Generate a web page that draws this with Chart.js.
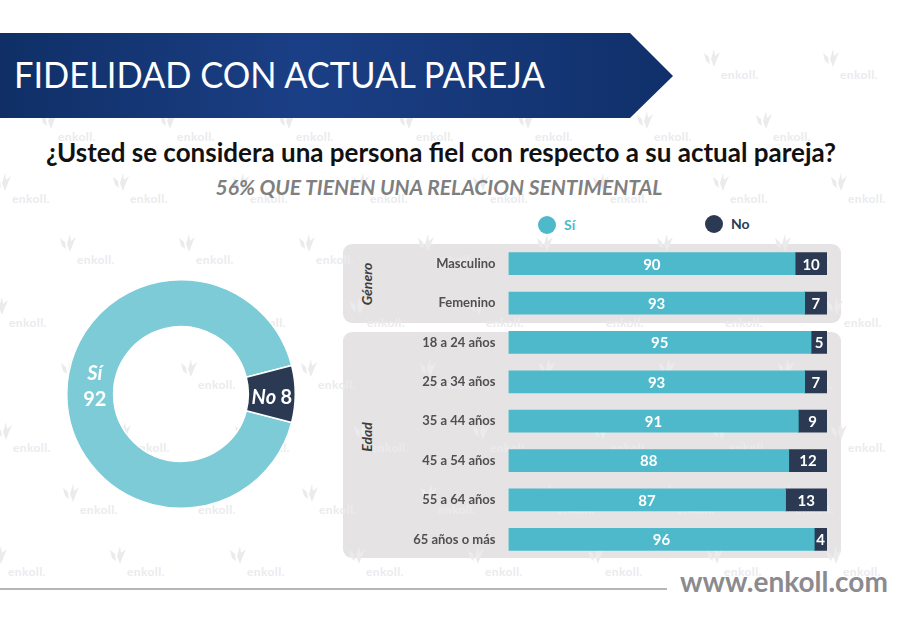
<!DOCTYPE html>
<html lang="es">
<head>
<meta charset="utf-8">
<title>Fidelidad con actual pareja</title>
<script src="https://cdn.jsdelivr.net/npm/chart.js@4"></script>
<style>
  body { margin: 0; background: #fff; font-family: Lato, "Open Sans", sans-serif; }
  #page { position: relative; width: 900px; height: 630px; overflow: hidden; }
  #page > * { position: absolute; }
  #banner { left: 0; top: 33px; width: 673px; height: 85px;
    background: linear-gradient(90deg, #0f2f66 0%, #1b3f86 45%, #10306a 100%);
    clip-path: polygon(0 0, 630px 0, 673px 43px, 630px 85px, 0 85px); }
  #titulo { left: 14px; top: 52px; color: #fff; font-size: 37px; line-height: 44px; white-space: nowrap; transform: scaleX(.93); transform-origin: left center; }
  #pregunta { left: 0; width: 882px; top: 136px; text-align: center; font-size: 26px; line-height: 32px; font-weight: 700; color: #111; white-space: nowrap; }
  #sub { left: 0; width: 878px; top: 175px; text-align: center; font-size: 21px; line-height: 24px; font-weight: 700; font-style: italic; color: #7f7f7f; white-space: nowrap; }
  .panel { background: #e6e3e4; border-radius: 9px; left: 343px; width: 498px; }
  .wm-txt { color: #ebebee; font-size: 12px; font-weight: 700; letter-spacing: .4px; white-space: nowrap; }
  .wm-ico { width: 20px; height: 20px; }
  .grupo { font-size: 14px; font-weight: 700; font-style: italic; color: #3d3d3d; transform: translate(-50%, -50%) rotate(-90deg); white-space: nowrap; }
  .ley-punto { width: 18px; height: 18px; border-radius: 50%; }
  .ley-txt { font-size: 14px; font-weight: 700; line-height: 18px; }
  #web { left: 680px; top: 565px; font-size: 28px; line-height: 32px; font-weight: 700; color: #8b8b8f; white-space: nowrap; }
  #linea { left: 0; top: 588px; width: 667px; height: 2px; background: #b5b5b5; }
</style>
</head>
<body>
<div id="page">
  <div class="panel" style="top:244px;height:79px"></div>
  <div class="panel" style="top:332px;height:226px"></div>
  <div id="marcas"></div>
  <div id="banner"></div>
  <div id="titulo">FIDELIDAD CON ACTUAL PAREJA</div>
  <div id="pregunta">¿Usted se considera una persona fiel con respecto a su actual pareja?</div>
  <div id="sub">56% QUE TIENEN UNA RELACION SENTIMENTAL</div>
  <div class="ley-punto" style="left:538px;top:216px;background:#4db9ca"></div>
  <div class="ley-txt" style="left:564px;top:216px;color:#4db9ca">Sí</div>
  <div class="ley-punto" style="left:705px;top:215px;background:#2b3a52"></div>
  <div class="ley-txt" style="left:731px;top:215px;color:#2b3a52">No</div>
  <div class="grupo" style="left:366px;top:284px">Género</div>
  <div class="grupo" style="left:366px;top:437px">Edad</div>
  <canvas id="chartDona" style="left:66px;top:279px"></canvas>
  <canvas id="chartBarras" style="left:340px;top:244px"></canvas>
  <div id="web">www.enkoll.com</div>
  <div id="linea"></div>
</div>
<script>
const categorias = ['Masculino', 'Femenino', '18 a 24 años', '25 a 34 años', '35 a 44 años', '45 a 54 años', '55 a 64 años', '65 años o más'];
const valoresSi = [90, 93, 95, 93, 91, 88, 87, 96];
const valoresNo = [10, 7, 5, 7, 9, 12, 13, 4];
const donaEtiquetas = ['Sí', 'No'];
const donaValores = [92, 8];

const colorSi = '#4db9ca';
const colorSiDona = '#7ccbd6';
const colorNo = '#2b3a52';
const fuente = 'Lato, "Open Sans", sans-serif';

// Marca de agua de fondo
const filasMarca = [
    { y: 75, xs: [741, 860] },
    { y: 137, xs: [78, 197, 316, 436, 555, 674, 793] },
    { y: 199, xs: [32, 150, 270, 390, 510, 630, 750, 868] },
    { y: 260, xs: [97, 216, 336, 455, 574, 694, 812] },
    { y: 323, xs: [29, 148, 268, 387, 506, 626, 745, 864] },
    { y: 385, xs: [98, 218, 338, 457, 576, 696, 815] },
    { y: 448, xs: [33, 152, 272, 391, 510, 630, 749, 868] },
    { y: 510, xs: [100, 218, 339, 458, 577, 697, 816] },
    { y: 572, xs: [28, 147, 267, 386, 505, 625, 744, 863] }
];
const marcas = document.getElementById('marcas');
filasMarca.forEach(fila => {
    fila.xs.forEach(x => {
        const txt = document.createElement('div');
        txt.className = 'wm-txt';
        txt.textContent = 'enkoll.';
        txt.style.cssText = `position:absolute;left:${x - 20}px;top:${fila.y - 8}px`;
        marcas.appendChild(txt);
        const ico = document.createElementNS('http://www.w3.org/2000/svg', 'svg');
        ico.setAttribute('viewBox', '0 0 20 20');
        ico.setAttribute('class', 'wm-ico');
        ico.style.cssText = `position:absolute;left:${x - 39}px;top:${fila.y - 27}px`;
        ico.innerHTML = '<path d="M2 5 L7 9 L8 16 L4 13 Z M12 1 L13 8 L18 4 L15 11 L12 19 L9 11 Z" fill="#ebebee"/>';
        marcas.appendChild(ico);
    });
});

// Valores dentro de cada tramo de barra
const valoresEnBarras = {
    id: 'valoresEnBarras',
    afterDatasetsDraw(chart) {
        const ctx = chart.ctx;
        ctx.save();
        ctx.fillStyle = '#fff';
        ctx.font = `700 15px ${fuente}`;
        ctx.textAlign = 'center';
        ctx.textBaseline = 'middle';
        chart.data.datasets.forEach((ds, i) => {
            chart.getDatasetMeta(i).data.forEach((barra, j) => {
                const p = barra.getProps(['x', 'y', 'base']);
                ctx.fillText(ds.data[j], (p.x + p.base) / 2, p.y + 1);
            });
        });
        ctx.restore();
    }
};

// Etiquetas sobre los sectores de la dona
const etiquetasDona = {
    id: 'etiquetasDona',
    afterDatasetsDraw(chart) {
        const ctx = chart.ctx;
        const arcos = chart.getDatasetMeta(0).data;
        const valores = chart.data.datasets[0].data;
        const etiquetas = chart.data.labels;
        ctx.save();
        ctx.fillStyle = '#fff';
        ctx.textBaseline = 'middle';

        const si = arcos[0].getProps(['x', 'y', 'startAngle', 'endAngle', 'innerRadius', 'outerRadius']);
        const angSi = (si.startAngle + si.endAngle) / 2;
        const rSi = si.innerRadius + (si.outerRadius - si.innerRadius) * 0.4;
        const xSi = si.x + Math.cos(angSi) * rSi;
        const ySi = si.y + Math.sin(angSi) * rSi;
        ctx.textAlign = 'center';
        ctx.font = `italic 700 20px ${fuente}`;
        ctx.fillText(etiquetas[0], xSi, ySi - 20);
        ctx.font = `700 20px ${fuente}`;
        ctx.fillText(valores[0], xSi, ySi + 6);

        const no = arcos[1].getProps(['x', 'y', 'startAngle', 'endAngle', 'innerRadius', 'outerRadius']);
        const angNo = (no.startAngle + no.endAngle) / 2;
        const rNo = (no.innerRadius + no.outerRadius) / 2;
        const xNo = no.x + Math.cos(angNo) * rNo;
        const yNo = no.y + Math.sin(angNo) * rNo + 4;
        ctx.textAlign = 'left';
        ctx.font = `italic 700 20px ${fuente}`;
        const anchoNo = ctx.measureText(etiquetas[1] + ' ').width;
        ctx.font = `700 20px ${fuente}`;
        const total = anchoNo + ctx.measureText(String(valores[1])).width;
        ctx.font = `italic 700 20px ${fuente}`;
        ctx.fillText(etiquetas[1], xNo - total / 2, yNo);
        ctx.font = `700 20px ${fuente}`;
        ctx.fillText(valores[1], xNo - total / 2 + anchoNo, yNo);
        ctx.restore();
    }
};

const lienzoDona = document.getElementById('chartDona');
lienzoDona.width = 230;
lienzoDona.height = 230;
new Chart(lienzoDona, {
    type: 'doughnut',
    data: {
        labels: donaEtiquetas,
        datasets: [{
            data: donaValores,
            backgroundColor: [colorSiDona, colorNo],
            borderColor: '#fff',
            borderWidth: 1.5
        }]
    },
    options: {
        responsive: false,
        animation: false,
        rotation: 104.4,
        cutout: '59%',
        plugins: { legend: { display: false }, tooltip: { enabled: false } }
    },
    plugins: [etiquetasDona]
});

const lienzoBarras = document.getElementById('chartBarras');
lienzoBarras.width = 510;
lienzoBarras.height = 315;
new Chart(lienzoBarras, {
    type: 'bar',
    data: {
        labels: categorias,
        datasets: [
            { label: 'Sí', data: valoresSi, backgroundColor: colorSi, barThickness: 22 },
            { label: 'No', data: valoresNo, backgroundColor: colorNo, barThickness: 22 }
        ]
    },
    options: {
        indexAxis: 'y',
        responsive: false,
        animation: false,
        layout: { padding: { right: 23 } },
        plugins: { legend: { display: false }, tooltip: { enabled: false } },
        scales: {
            x: { stacked: true, min: 0, max: 100, display: false },
            y: {
                stacked: true,
                grid: { display: false },
                border: { display: false },
                // ancho fijo y sin margen extra para que las barras ocupen todo el alto
                afterFit: (eje) => {
                    eje.width = 168.5;
                    eje.paddingTop = 0;
                    eje.paddingBottom = 0;
                },
                ticks: {
                    padding: 5,
                    color: '#505050',
                    font: { family: fuente, size: 13, weight: '700' }
                }
            }
        }
    },
    plugins: [valoresEnBarras]
});
</script>
</body>
</html>
